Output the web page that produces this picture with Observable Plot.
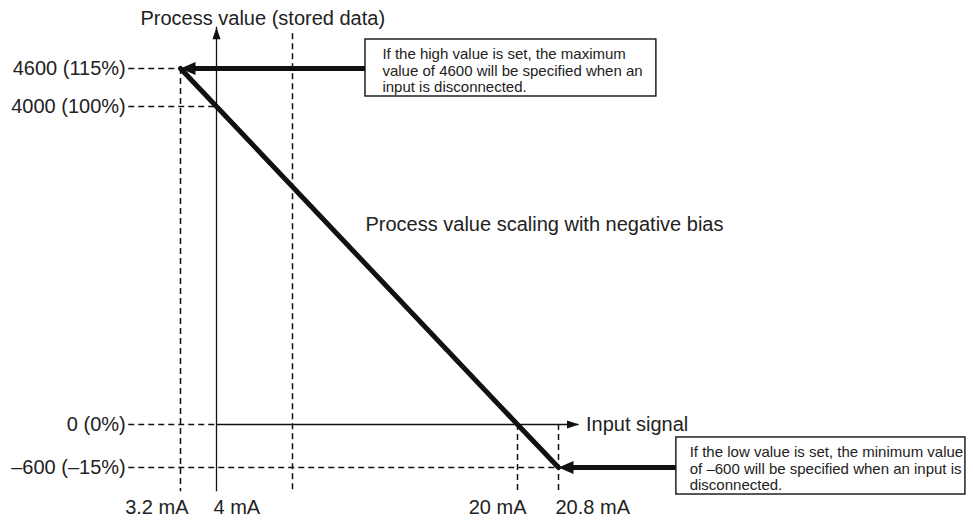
<!DOCTYPE html>
<html>
<head>
<meta charset="utf-8">
<script src="https://cdn.jsdelivr.net/npm/d3@7"></script>
<script src="https://cdn.jsdelivr.net/npm/@observablehq/plot@0.6"></script>
<style>
  html, body { margin: 0; padding: 0; background: #fff; }
</style>
</head>
<body>
<div id="chart"></div>
<script>
// ---- data ----
const signalMA = [3.2, 4, 20, 20.8];               // input signal (mA)
const processValue = [4600, 4000, 0, -600];        // stored process value
const xTickValues = [3.2, 4, 20, 20.8];
const xTickLabels = ["3.2 mA", "4 mA", "20 mA", "20.8 mA"];
const yTickValues = [4600, 4000, 0, -600];
const yTickLabels = ["4600 (115%)", "4000 (100%)", "0 (0%)", "–600 (–15%)"];
const guideEndX = [3.2, 4, 4, 20.8];               // where each horizontal guide ends
const vGuideX = [3.2, 8.04, 20, 20.8];             // vertical dashed guides
const vGuideTop = [4600, 5150, 0, 0];

const highNote = "If the high value is set, the maximum\nvalue of 4600 will be specified when an\ninput is disconnected.";
const lowNote = "If the low value is set, the minimum value\nof –600 will be specified when an input is\ndisconnected.";

// ---- diagram extents (in data units) ----
const guideLeft = 2.05, axisBottom = -940, axisTop = 5250, xAxisEnd = 21.2;
const callouts = [
  {tipX: 3.2, tipY: 4600, x1: 11.92, x2: 22.71, y1: 5058, y2: 4158, tx: 12.82, ty: 4570, text: highNote},
  {tipX: 20.8, tipY: -600, x1: 23.10, x2: 28.74, y1: -181, y2: -977, tx: 23.36, ty: -614, text: lowNote}
];

// ---- derived tables ----
const curve = signalMA.map((x, i) => ({x, y: processValue[i]}));
const xTicks = xTickValues.map((x, i) => ({x, label: xTickLabels[i]}));
const yTicks = yTickValues.map((y, i) => ({y, label: yTickLabels[i], end: guideEndX[i]}));
const vGuides = vGuideX.map((x, i) => ({x, top: vGuideTop[i]}));

function head(len, wid) {
  return { draw(ctx) { ctx.moveTo(0, 0); ctx.lineTo(wid / 2, len); ctx.lineTo(-wid / 2, len); ctx.closePath(); } };
}
const bigHead = head(15, 13);
const smallHead = head(12, 8);

const ink = "#111";
const textInk = "#222";
const dash = "6,4";

const xDx = [8, -3, 9, -3];
const xAnchor = ["end", "start", "end", "start"];

const chart = Plot.plot({
  width: 973,
  height: 524,
  margin: 0,
  style: {fontFamily: "'Liberation Sans', Arial, Helvetica, sans-serif", background: "#fff"},
  x: {type: "linear", domain: xTickValues.slice().sort((a, b) => a - b), range: [180, 216, 517, 558], axis: null},
  y: {type: "linear", domain: yTickValues.slice().sort((a, b) => a - b), range: [467, 424, 106, 68], axis: null},
  marks: [
    // horizontal dashed guides
    Plot.ruleY(yTicks, {y: "y", x1: guideLeft, x2: "end", stroke: ink, strokeWidth: 1.5, strokeDasharray: dash}),
    // vertical dashed guides
    Plot.ruleX(vGuides, {x: "x", y1: "top", y2: axisBottom, stroke: ink, strokeWidth: 1.5, strokeDasharray: dash}),
    // axes
    Plot.ruleX([4], {x: d => d, y1: axisBottom, y2: axisTop, stroke: ink, strokeWidth: 1.3}),
    Plot.ruleY([0], {y: d => d, x1: 4, x2: xAxisEnd, stroke: ink, strokeWidth: 1.3}),
    Plot.dot([{x: 4, y: axisTop}], {x: "x", y: "y", symbol: smallHead, fill: ink, stroke: "none"}),
    Plot.dot([{x: xAxisEnd, y: 0}], {x: "x", y: "y", symbol: smallHead, rotate: 90, fill: ink, stroke: "none"}),
    // scaling line
    Plot.line(curve, {x: "x", y: "y", stroke: ink, strokeWidth: 5, strokeLinejoin: "round"}),
    // callout arrows
    Plot.link(callouts, {x1: "x1", y1: "tipY", x2: "tipX", y2: "tipY", dx: 8, stroke: ink, strokeWidth: 5}),
    Plot.dot(callouts, {x: "tipX", y: "tipY", symbol: bigHead, rotate: -90, fill: ink, stroke: "none"}),
    // callout boxes
    Plot.rect(callouts, {x1: "x1", x2: "x2", y1: "y1", y2: "y2", fill: "#fff", stroke: ink, strokeWidth: 1.4}),
    Plot.text(callouts, {x: "tx", y: "ty", text: "text", textAnchor: "start", lineAnchor: "middle", lineHeight: 1.1, fontSize: 15, fill: textInk}),
    // tick labels
    Plot.text(yTicks, {x: guideLeft, y: "y", text: "label", textAnchor: "end", dx: -3, fontSize: 20, fill: textInk}),
    Plot.text(xTicks, {x: "x", y: axisBottom, text: "label", textAnchor: (d, i) => xAnchor[i], dx: 0, dy: 16, fontSize: 20, fill: textInk}),
    // titles
    Plot.text(["Process value (stored data)"], {x: 4, y: axisTop, text: d => d, textAnchor: "start", dx: -76, dy: -9, fontSize: 20, fill: textInk}),
    Plot.text(["Input signal"], {x: xAxisEnd, y: 0, text: d => d, textAnchor: "start", dx: 7, fontSize: 20, fill: textInk}),
    Plot.text(["Process value scaling with negative bias"], {x: 11.92, y: 2516, text: d => d, textAnchor: "start", fontSize: 20, fill: textInk})
  ]
});

// per-label horizontal offsets for the x labels
const xLabelGroup = chart.querySelectorAll("g[aria-label='text']")[2];
if (xLabelGroup) {
  xLabelGroup.querySelectorAll("text").forEach((t, i) => {
    t.setAttribute("text-anchor", xAnchor[i]);
    const tr = t.getAttribute("transform") || "";
    t.setAttribute("transform", tr + ` translate(${xDx[i]},0)`);
  });
}

document.getElementById("chart").appendChild(chart);
</script>
</body>
</html>
